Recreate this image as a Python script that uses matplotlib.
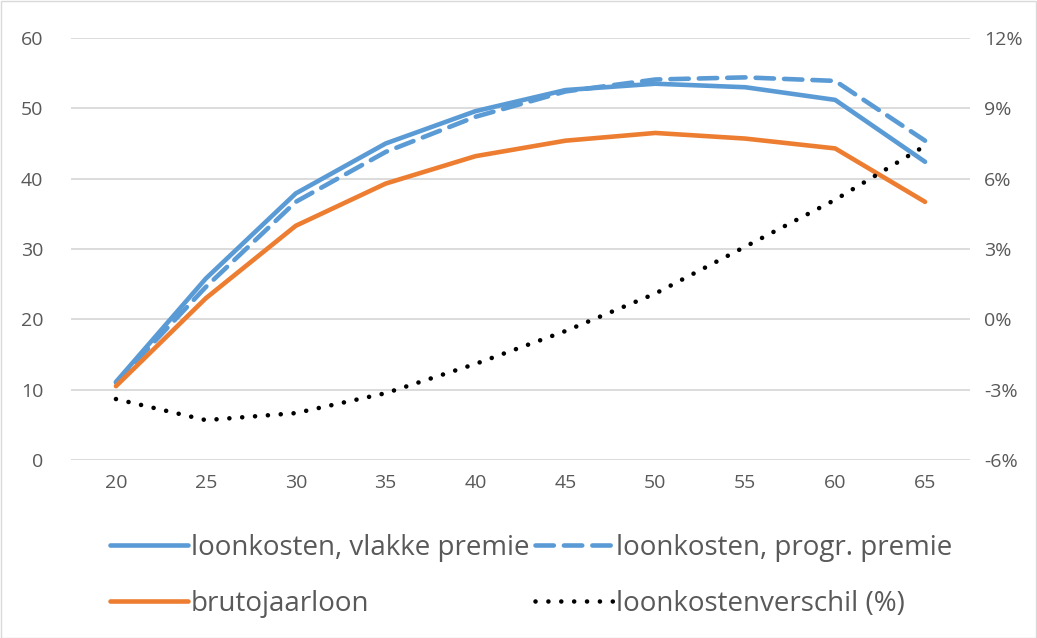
import numpy as np
import matplotlib.pyplot as plt
from matplotlib.patches import Rectangle

plt.rcParams['font.family'] = ['Liberation Sans Narrow', 'Open Sans', 'DejaVu Sans']

ages = [20, 25, 30, 35, 40, 45, 50, 55, 60, 65]
vlak = [11.1, 25.8, 37.9, 45.0, 49.6, 52.6, 53.5, 53.0, 51.2, 42.4]
progr = [11.0, 24.6, 36.7, 43.8, 48.8, 52.4, 54.1, 54.4, 53.9, 45.4]
bruto = [10.5, 23.0, 33.3, 39.3, 43.2, 45.4, 46.5, 45.7, 44.3, 36.7]
verschil = [-3.4, -4.3, -4.0, -3.15, -1.9, -0.5, 1.1, 3.1, 5.1, 7.4]

blue = '#5B9BD5'
orange = '#ED7D31'
grey = '#595959'

fig = plt.figure(figsize=(10.37, 6.38), dpi=100)
W, H = 1037, 638
ax = fig.add_axes([71 / W, 1 - 460 / H, (970 - 71) / W, (460 - 38) / H])
ax2 = ax.twinx()

x = np.arange(len(ages))
l1, = ax.plot(x, vlak, color=blue, lw=3.3, solid_capstyle='round', solid_joinstyle='round')
l2, = ax.plot(x, progr, color=blue, lw=3.3, dashes=(4, 2.2), dash_capstyle='round')
l3, = ax.plot(x, bruto, color=orange, lw=3.3, solid_capstyle='round', solid_joinstyle='round')
l4, = ax2.plot(x, verschil, color='black', lw=3.3, dashes=(0.01, 2.8), dash_capstyle='round')

ax.set_xlim(-0.5, len(ages) - 0.5)
ax.set_ylim(0, 60)
ax2.set_ylim(-6, 12)
ax.set_yticks(range(0, 61, 10))
ax2.set_yticks(range(-6, 13, 3))
ax2.set_yticklabels([f'{v}%' for v in range(-6, 13, 3)])
ax.set_xticks(x)
ax.set_xticklabels([str(a) for a in ages])

ax.grid(axis='y', color='#d9d9d9', lw=1.3)
ax.set_axisbelow(True)
for a in (ax, ax2):
    for s in a.spines.values():
        s.set_visible(False)
ax.tick_params(axis='both', length=0, labelsize=14, colors=grey)
ax.tick_params(axis='y', pad=20)
ax.tick_params(axis='x', pad=10)
ax2.tick_params(axis='y', length=0, labelsize=14, colors=grey, pad=10)

# legend fills column by column, so order entries to read row by row
fig.legend([l1, l3, l2, l4],
           ['loonkosten, vlakke premie', 'brutojaarloon',
            'loonkosten, progr. premie', 'loonkostenverschil (%)'],
           ncol=2, loc='center', bbox_to_anchor=(531 / W, 1 - 576 / H),
           frameon=False, fontsize=20, handlelength=2.8, handletextpad=0.12,
           columnspacing=0.2, labelspacing=1.0, labelcolor=grey)

fig.patches.append(Rectangle((0.5 / W, 0.5 / H), 1 - 1.5 / W, 1 - 1.5 / H,
                             transform=fig.transFigure, fill=False,
                             edgecolor='#d9d9d9', lw=1))

fig.savefig('out.png', dpi=100)
